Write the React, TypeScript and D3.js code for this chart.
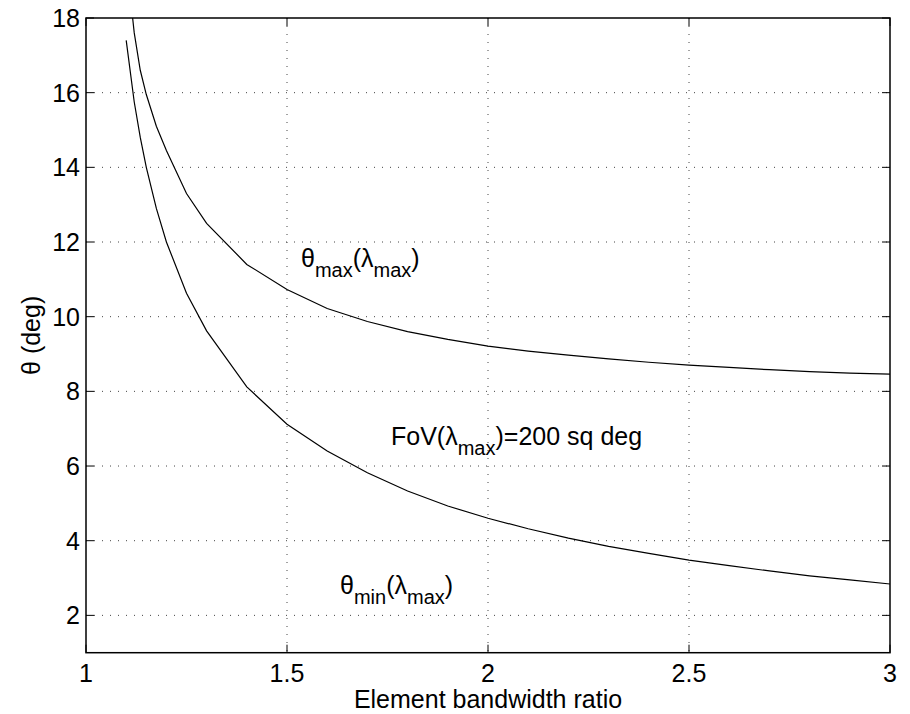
import React from "react";
import * as d3 from "d3";

const xTicks = [1, 1.5, 2, 2.5, 3];
const yTicks = [2, 4, 6, 8, 10, 12, 14, 16, 18];

const ratio = [1.1, 1.12, 1.135, 1.15, 1.175, 1.2, 1.25, 1.3, 1.4, 1.5, 1.6, 1.7, 1.8, 1.9, 2.0, 2.1, 2.2, 2.3, 2.4, 2.5, 2.6, 2.7, 2.8, 2.9, 3.0];
const thetaMax = [19.6, 17.6, 16.6, 15.95, 15.1, 14.45, 13.3, 12.5, 11.4, 10.73, 10.22, 9.87, 9.6, 9.39, 9.21, 9.08, 8.97, 8.87, 8.78, 8.7, 8.64, 8.58, 8.53, 8.49, 8.46];
const thetaMin = [17.4, 15.75, 14.8, 14.0, 12.9, 12.0, 10.63, 9.62, 8.12, 7.12, 6.4, 5.82, 5.33, 4.93, 4.6, 4.32, 4.07, 3.85, 3.66, 3.48, 3.33, 3.19, 3.06, 2.95, 2.84];

const W = 910, H = 714;
const left = 86, right = 890, top = 18, bottom = 652.7;

export default function App() {
  const x = d3.scaleLinear().domain([1, 3]).range([left, right]);
  const y = d3.scaleLinear().domain([1, 18]).range([bottom, top]);
  const line = d3.line<number>().x((_, i) => x(ratio[i])).y((d) => y(d));
  const font = "'Liberation Sans', Arial, Helvetica, sans-serif";
  const fs = 25;
  const sub = 20;
  return (
    <svg width={W} height={H} style={{ position: "absolute", left: 0, top: 0, background: "#fff" }} fontFamily={font}>
      <rect x={0} y={0} width={W} height={H} fill="#fff" />
      <defs>
        <clipPath id="plotclip">
          <rect x={left} y={top} width={right - left} height={bottom - top} />
        </clipPath>
      </defs>
      {xTicks.slice(1, -1).map((t) => (
        <line key={"gx" + t} x1={x(t)} x2={x(t)} y1={top} y2={bottom} stroke="#444" strokeWidth={1} strokeDasharray="1 7" />
      ))}
      {yTicks.slice(0, -1).map((t) => (
        <line key={"gy" + t} x1={left} x2={right} y1={y(t)} y2={y(t)} stroke="#444" strokeWidth={1} strokeDasharray="1 7" />
      ))}
      <g clipPath="url(#plotclip)" fill="none" stroke="#000" strokeWidth={1.2}>
        <path d={line(thetaMax) || ""} />
        <path d={line(thetaMin) || ""} />
      </g>
      {xTicks.map((t) => (
        <g key={"tx" + t}>
          <line x1={x(t)} x2={x(t)} y1={bottom} y2={bottom - 8} stroke="#000" />
          <line x1={x(t)} x2={x(t)} y1={top} y2={top + 8} stroke="#000" />
          <text x={x(t)} y={682} fontSize={fs} textAnchor="middle">{t}</text>
        </g>
      ))}
      {yTicks.map((t) => (
        <g key={"ty" + t}>
          <line x1={left} x2={left + 8} y1={y(t)} y2={y(t)} stroke="#000" />
          <line x1={right} x2={right - 8} y1={y(t)} y2={y(t)} stroke="#000" />
          <text x={80} y={y(t) + 9} fontSize={fs} textAnchor="end">{t}</text>
        </g>
      ))}
      <rect x={left} y={top} width={right - left} height={bottom - top} fill="none" stroke="#000" strokeWidth={1.5} />
      <text x={(left + right) / 2} y={708} fontSize={fs} textAnchor="middle">Element bandwidth ratio</text>
      <text transform={`translate(40, ${(top + bottom) / 2}) rotate(-90)`} fontSize={fs} textAnchor="middle">θ (deg)</text>
      <text x={301} y={267} fontSize={fs}>
        θ<tspan fontSize={sub} dy={10}>max</tspan><tspan dy={-10}>(λ</tspan><tspan fontSize={sub} dy={10}>max</tspan><tspan dy={-10}>)</tspan>
      </text>
      <text x={391} y={445} fontSize={fs}>
        FoV(λ<tspan fontSize={sub} dy={10}>max</tspan><tspan dy={-10}>)=200 sq deg</tspan>
      </text>
      <text x={340} y={594} fontSize={fs}>
        θ<tspan fontSize={sub} dy={10}>min</tspan><tspan dy={-10}>(λ</tspan><tspan fontSize={sub} dy={10}>max</tspan><tspan dy={-10}>)</tspan>
      </text>
    </svg>
  );
}
